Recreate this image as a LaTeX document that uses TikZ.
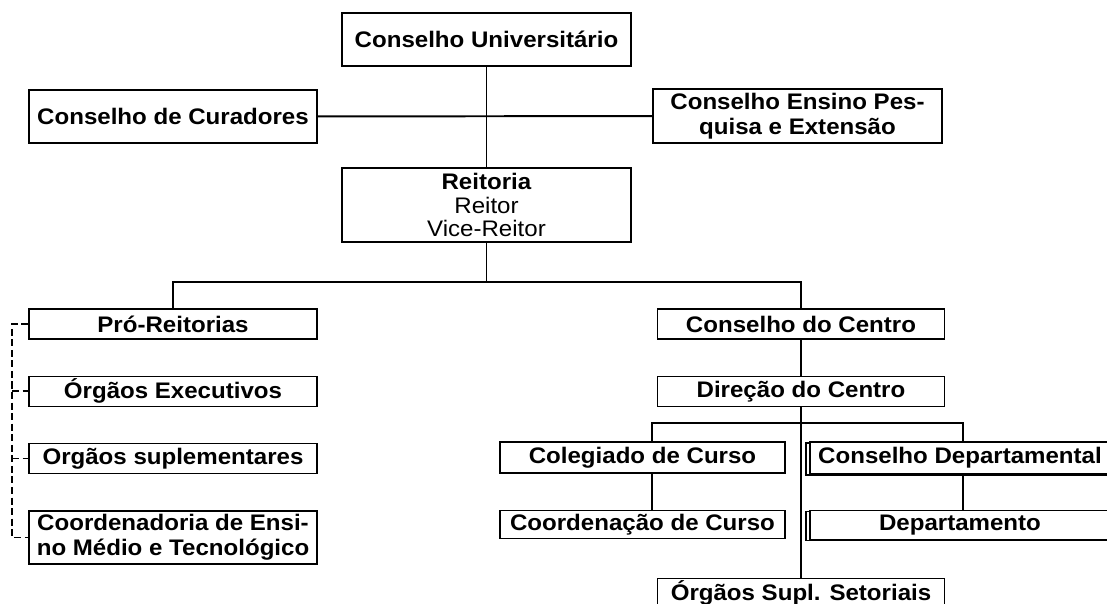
\documentclass[tikz,border=0pt]{standalone}
\usepackage{fontspec}
\setmainfont{Liberation Sans}[FakeStretch=1.07]
\usetikzlibrary{positioning,shadows}

\tikzset{
  box/.style={draw, line width=0.9pt, fill=white, inner sep=0pt, align=center,
    font=\fontsize{16}{18}\selectfont\bfseries},
  dbox/.style={box, general shadow={shadow xshift=-2.8pt, shadow yshift=-0.7pt,
    draw=black, fill=white, line width=0.9pt}},
  link/.style={line width=1.4pt},
  helper/.style={line width=1.2pt, dash pattern=on 5pt off 2.5pt}
}

\begin{document}
\begin{tikzpicture}[x=0.025cm, y=-0.025cm, node distance=1.68cm, on grid]
   \useasboundingbox (0,0) rectangle (1107,604);

   % top
   \node[box, minimum width=7.225cm, minimum height=1.325cm] (uni) at (486.5,39.5) {Conselho Universitário};
   \node[box, minimum width=7.2cm, minimum height=1.325cm] (cur) at (173,116.5) {Conselho de Curadores};
   \node[box, minimum width=7.225cm, minimum height=1.35cm] (ens) at (797.5,116) {Conselho Ensino Pes-\\quisa e Extensão};
   \node[box, minimum width=7.225cm, minimum height=1.85cm, font=\fontsize{16}{16.5}\selectfont] (rei) at (486.5,205)
      {\textbf{Reitoria}\\Reitor\\Vice-Reitor};

   % left column
   \node[box, minimum width=7.2cm, minimum height=0.75cm] (pro) at (173,324) {Pró-Reitorias};
   \node[box, minimum width=7.2cm, minimum height=0.75cm] (exe) [below=of pro] {Órgãos Executivos};
   \node[box, minimum width=7.2cm, minimum height=0.75cm] (sup) [below=of exe] {Orgãos suplementares};
   \node[box, minimum width=7.2cm, minimum height=1.325cm] (coo) [below=1.975cm of sup] {Coordenadoria de Ensi-\\no Médio e Tecnológico};

   % right column
   \node[box, minimum width=7.175cm, minimum height=0.75cm] (cc) at (801,324) {Conselho do Centro};
   \node[box, minimum width=7.175cm, minimum height=0.75cm] (dir) [below=of cc] {Direção do Centro};
   \node[box, minimum width=7.175cm, minimum height=0.75cm] (ors) [below=5.05cm of dir] {Órgãos Supl. Setoriais};
   \node[box, minimum width=7.125cm, minimum height=0.775cm] (col) at (642.5,457.5) {Colegiado de Curso};
   \node[box, minimum width=7.125cm, minimum height=0.7cm] (cdc) [below=of col] {Coordenação de Curso};
   \node[dbox, minimum width=7.5cm, minimum height=0.8cm] (cd) at (960,458) {Conselho Departamental};
   \node[dbox, minimum width=7.5cm, minimum height=0.725cm] (dep) [below=of cd] {Departamento};

   \coordinate (top) at (486.5,282);
   \coordinate (lj) at (652,423);
   \coordinate (rj) at (963,423);
   \coordinate (rail) at (12,0);

   \draw[link] (uni) -- (rei);
   \draw[link] (cur) -- (ens);
   \draw[link] (rei.south) -- (top);
   \draw[link] (pro.north) |- (top) -| (cc.north);
   \draw[link] (cc) -- (dir);
   \draw[link] (dir) -- (ors);
   \draw[link] (col.north -| lj) -- (lj) -- (rj) -- (cd.north -| rj);
   \draw[link] (col.south -| lj) -- (cdc.north -| lj);
   \draw[link] (cd.south -| rj) -- (dep.north -| rj);

   \draw[helper] (pro.west) -- (pro.west -| rail) -- (coo.west -| rail) -- (coo.west);
   \draw[helper] (exe.west -| rail) -- (exe.west);
   \draw[helper] (sup.west -| rail) -- (sup.west);
\end{tikzpicture}
\end{document}
